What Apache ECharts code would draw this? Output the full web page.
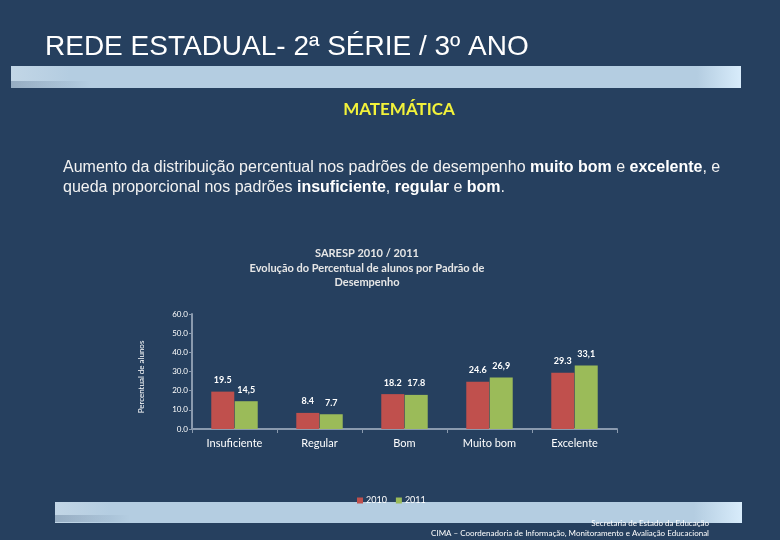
<!DOCTYPE html>
<html><head><meta charset="utf-8">
<script src="https://cdn.jsdelivr.net/npm/echarts@6/dist/echarts.min.js"></script>
<style>html,body{margin:0;padding:0;background:#26405F;}#c{width:780px;height:540px;}</style>
</head><body><div id="c"></div>
<script>
const categories = ['Insuficiente', 'Regular', 'Bom', 'Muito bom', 'Excelente'];
const values2010 = [19.5, 8.4, 18.2, 24.6, 29.3];
const values2011 = [14.5, 7.7, 17.8, 26.9, 33.1];
const labels2010 = ['19.5', '8.4', '18.2', '24.6', '29.3'];
const labels2011 = ['14,5', '7.7', '17.8', '26,9', '33,1'];
const seriesNames = ['2010', '2011'];
const yTicks = [0, 10, 20, 30, 40, 50, 60];

const chart = echarts.init(document.getElementById('c'), null, {renderer: 'canvas'});
const lbl = (arr) => ({show: true, position: 'top', distance: 7, color: '#FFFFFF', fontSize: 9, fontWeight: 'bold', fontFamily: 'Lato', formatter: p => arr[p.dataIndex]});
chart.setOption({
  backgroundColor: '#26405F',
  animation: false,
  graphic: [
    {type: 'rect', z: -10, shape: {x: 11, y: 66, width: 730, height: 22},
     style: {fill: new echarts.graphic.LinearGradient(0, 0, 1, 0, [{offset: 0, color: '#C2D6E6'}, {offset: 0.08, color: '#B4CDE1'}, {offset: 0.94, color: '#B4CDE1'}, {offset: 1, color: '#D8ECFB'}])}},
    {type: 'rect', z: -9, shape: {x: 11, y: 81, width: 80, height: 7},
     style: {fill: new echarts.graphic.LinearGradient(0, 0, 1, 0, [{offset: 0, color: 'rgba(120,145,170,0.6)'}, {offset: 1, color: 'rgba(120,145,170,0)'}])}},
    {type: 'rect', z: -10, shape: {x: 55, y: 502, width: 687, height: 21},
     style: {fill: new echarts.graphic.LinearGradient(0, 0, 1, 0, [{offset: 0, color: '#C2D6E6'}, {offset: 0.08, color: '#B4CDE1'}, {offset: 0.93, color: '#B4CDE1'}, {offset: 1, color: '#D8ECFB'}])}},
    {type: 'rect', z: -9, shape: {x: 55, y: 515, width: 75, height: 7},
     style: {fill: new echarts.graphic.LinearGradient(0, 0, 1, 0, [{offset: 0, color: 'rgba(120,145,170,0.6)'}, {offset: 1, color: 'rgba(120,145,170,0)'}])}},
    {type: 'text', z: 10, left: 45, top: 33, style: {text: 'REDE ESTADUAL- 2ª SÉRIE / 3º ANO', fill: '#FFFFFF', font: '28px "Liberation Sans"'}},
    {type: 'text', z: 10, x: 399, y: 110, style: {text: 'MATEMÁTICA', fill: '#F2F23A', font: 'bold 17px Lato', textAlign: 'center', textVerticalAlign: 'middle'}},
    {type: 'text', z: 10, left: 63, top: 160, style: {
      text: '{n|Aumento da distribuição percentual nos padrões de desempenho }{b|muito bom}{n| e }{b|excelente}{n|, e}\n{n|queda proporcional nos padrões }{b|insuficiente}{n|, }{b|regular}{n| e }{b|bom}{n|.}',
      rich: {n: {fill: '#F2F2F2', font: '16px "Liberation Sans"', lineHeight: 20}, b: {fill: '#FFFFFF', font: 'bold 16px "Liberation Sans"', lineHeight: 20}}}},
    {type: 'text', z: 10, x: 367, y: 268, style: {text: 'SARESP 2010 / 2011\nEvolução do Percentual de alunos por Padrão de\nDesempenho', fill: '#E6E6E6', font: 'bold 11px Lato', lineHeight: 14.5, textAlign: 'center', textVerticalAlign: 'middle'}},
    {type: 'text', z: 10, x: 141, y: 377, rotation: Math.PI / 2, style: {text: 'Percentual de alunos', fill: '#FFFFFF', font: '8px Lato', textAlign: 'center', textVerticalAlign: 'middle'}},
    {type: 'text', z: 10, x: 709, y: 523, style: {text: 'Secretaria de Estado da Educação', fill: '#FFFFFF', font: '8px Lato', textAlign: 'right', textVerticalAlign: 'middle'}},
    {type: 'text', z: 10, x: 709, y: 533, style: {text: 'CIMA – Coordenadoria de Informação, Monitoramento e Avaliação Educacional', fill: '#FFFFFF', font: '8px Lato', textAlign: 'right', textVerticalAlign: 'middle'}}
  ],
  legend: {data: seriesNames, left: 357, top: 496, padding: 0, itemWidth: 6, itemHeight: 6, itemGap: 9, icon: 'rect',
    textStyle: {color: '#FFFFFF', fontSize: 9, fontFamily: 'Lato', padding: [0, 0, 0, -2]}},
  grid: {left: 192, right: 163, top: 314, bottom: 111},
  xAxis: {type: 'category', data: categories,
    axisLine: {lineStyle: {color: '#8A9AAE', width: 2}},
    axisTick: {show: true, alignWithLabel: false, length: 4, lineStyle: {color: '#8A9AAE', width: 1}},
    axisLabel: {color: '#FFFFFF', fontSize: 11, fontFamily: 'Lato', margin: 9}},
  yAxis: {type: 'value', min: yTicks[0], max: yTicks[yTicks.length - 1], interval: 10,
    axisLine: {show: true, lineStyle: {color: '#8A9AAE', width: 2}},
    axisTick: {show: true, length: 3, lineStyle: {color: '#8A9AAE'}},
    splitLine: {show: false},
    axisLabel: {color: '#FFFFFF', fontSize: 8, fontFamily: 'Lato', margin: 4, formatter: v => v.toFixed(1)}},
  series: [
    {name: seriesNames[0], type: 'bar', data: values2010, barWidth: 23, barGap: '2%', itemStyle: {color: '#C0504D'}, label: lbl(labels2010)},
    {name: seriesNames[1], type: 'bar', data: values2011, barWidth: 23, itemStyle: {color: '#9BBB59'}, label: lbl(labels2011)}
  ]
});
</script></body></html>
